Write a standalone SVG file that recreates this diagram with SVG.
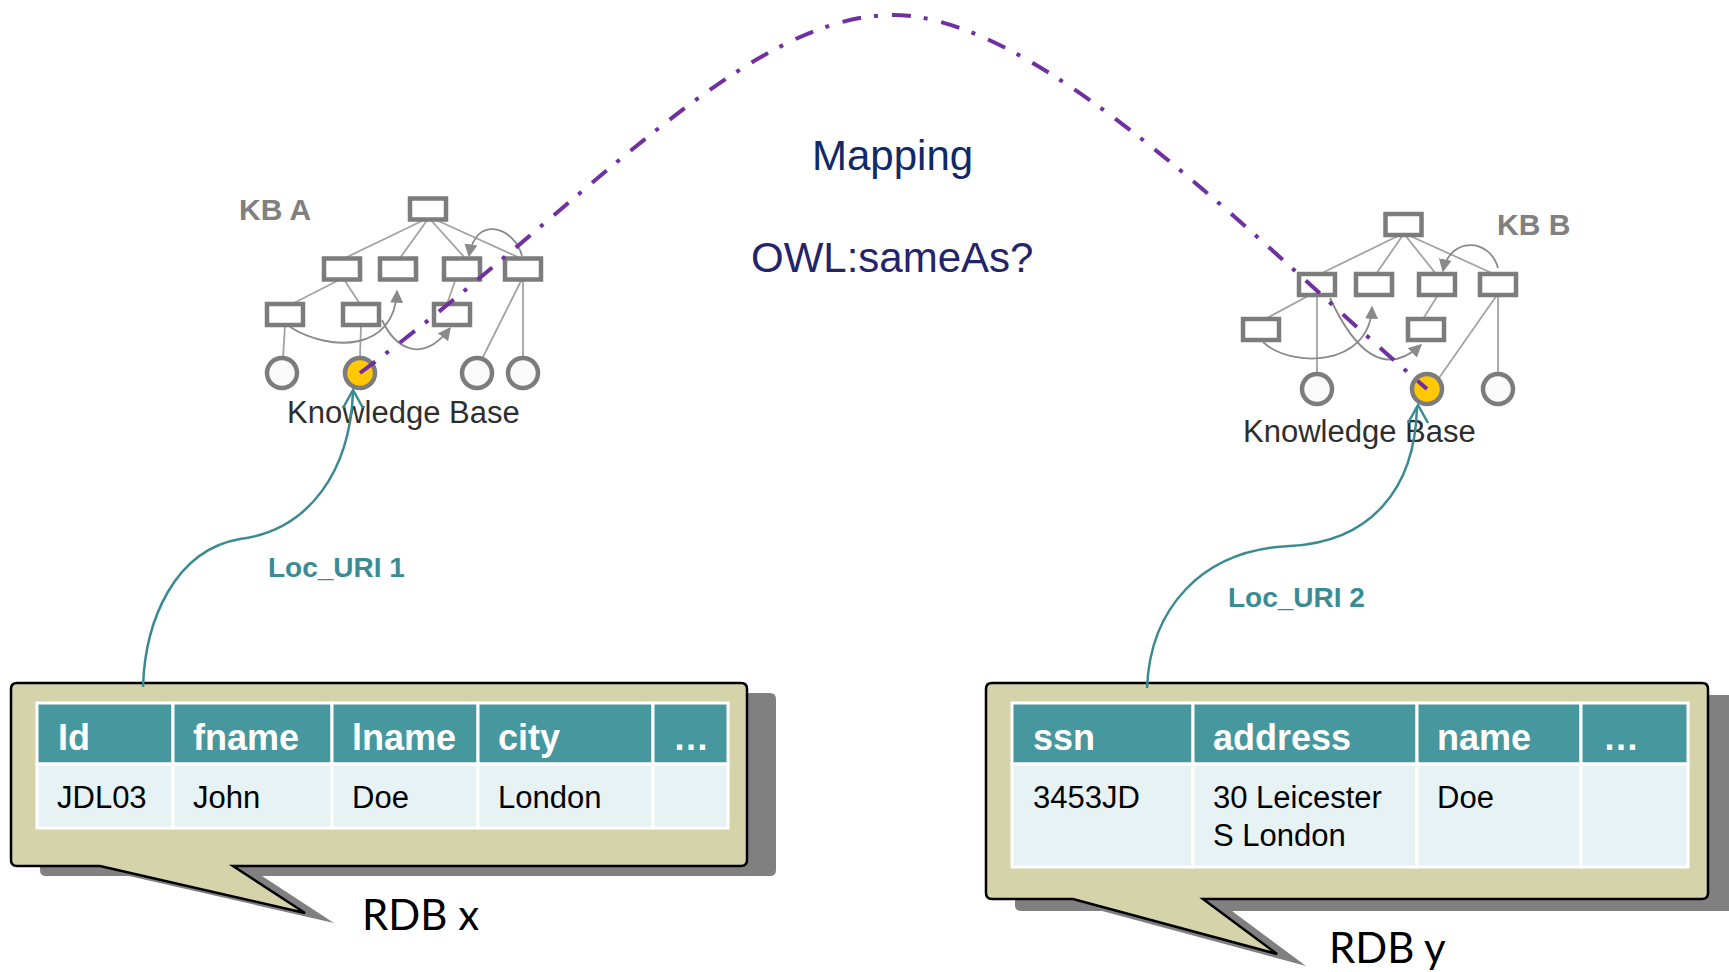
<svg xmlns="http://www.w3.org/2000/svg" width="1729" height="972" viewBox="0 0 1729 972">
  <style>
    .kbrect { fill: #ffffff; stroke: #7c7c7c; stroke-width: 4.5; }
    .kbcirc { fill: #fafafa; stroke: #7c7c7c; stroke-width: 4.5; }
    .kbhit { fill: #ffc800; stroke: #7c7c7c; stroke-width: 4.5; }
    .kbline { fill: none; stroke: #a3a3a3; stroke-width: 1.8; }
    .kbcurve { fill: none; stroke: #8a8a8a; stroke-width: 1.8; marker-end: url(#grayhead); }
    .kblabel { font-family: "Liberation Sans", Arial, sans-serif; font-size: 30px; font-weight: bold; fill: #808080; }
    .kbtitle { font-family: "Liberation Sans", Arial, sans-serif; font-size: 31px; fill: #2e2e2e; }
    .bubble { fill: #d5d3aa; stroke: #000000; stroke-width: 2.5; stroke-linejoin: miter; }
    .bubbleshadow { fill: #808080; }
    .hcell { fill: #46979e; stroke: #ffffff; stroke-width: 3; }
    .rcell { fill: #e6f2f3; stroke: #ffffff; stroke-width: 3; }
    .htext { font-family: "Liberation Sans", Arial, sans-serif; font-size: 36px; font-weight: bold; fill: #ffffff; }
    .rtext { font-family: "Liberation Sans", Arial, sans-serif; font-size: 31px; fill: #000000; }
    .dbname { font-family: Lato, "Open Sans", sans-serif; font-size: 42px; fill: #000000; }
    .uri { fill: none; stroke: #3a8a92; stroke-width: 2.5; }
    .urihead { fill: none; stroke: #3a8a92; stroke-width: 2.5; stroke-linejoin: miter; }
    .urilabel { font-family: "Liberation Sans", Arial, sans-serif; font-size: 28px; font-weight: bold; fill: #3a8c94; }
    .mapping { fill: none; stroke: #7030a0; stroke-width: 4; stroke-dasharray: 19 13 4 14; }
    .maplabel { font-family: "Liberation Sans", Arial, sans-serif; font-size: 42px; }
  </style>
  <defs>
    <marker id="grayhead" viewBox="0 0 10 10" refX="9" refY="5" markerUnits="userSpaceOnUse" markerWidth="13" markerHeight="13" orient="auto">
      <path d="M0,0 L10,5 L0,10 Z" fill="#8a8a8a"/>
    </marker>
  </defs>

  <!-- Knowledge base A -->
  <g id="kb-a">
    <text class="kblabel" x="239" y="220">KB A</text>
    <line class="kbline" x1="426" y1="219" x2="345" y2="258"/>
    <line class="kbline" x1="428" y1="219" x2="400" y2="258"/>
    <line class="kbline" x1="430" y1="219" x2="465" y2="258"/>
    <line class="kbline" x1="434" y1="219" x2="520" y2="258"/>
    <line class="kbline" x1="337" y1="281" x2="292" y2="304"/>
    <line class="kbline" x1="345" y1="281" x2="360" y2="304"/>
    <line class="kbline" x1="455" y1="281" x2="447" y2="304"/>
    <line class="kbline" x1="521" y1="281" x2="482" y2="359"/>
    <line class="kbline" x1="523" y1="281" x2="523" y2="358"/>
    <line class="kbline" x1="285" y1="325" x2="283" y2="358"/>
    <line class="kbline" x1="361" y1="325" x2="360" y2="358"/>
    <rect class="kbrect" x="410" y="198.5" width="36" height="21"/>
    <rect class="kbrect" x="324" y="258.5" width="36" height="21"/>
    <rect class="kbrect" x="380" y="258.5" width="36" height="21"/>
    <rect class="kbrect" x="444" y="258.5" width="36" height="21"/>
    <rect class="kbrect" x="505" y="258.5" width="36" height="21"/>
    <rect class="kbrect" x="267" y="304" width="36" height="21"/>
    <rect class="kbrect" x="343" y="304" width="36" height="21"/>
    <rect class="kbrect" x="434" y="304" width="36" height="21"/>
    <path class="kbcurve" d="M290,327 C330,352 395,352 397,291"/>
    <path class="kbcurve" d="M382,320 C395,348 422,365 450,328"/>
    <path class="kbcurve" d="M522,256 C515,228 476,213 469,256"/>
    <circle class="kbcirc" cx="282" cy="373" r="15"/>
    <circle class="kbhit" cx="360" cy="373" r="15"/>
    <circle class="kbcirc" cx="477" cy="373" r="15"/>
    <circle class="kbcirc" cx="523" cy="373" r="15"/>
    <text class="kbtitle" x="287" y="423">Knowledge Base</text>
  </g>

  <!-- Knowledge base B -->
  <g id="kb-b">
    <text class="kblabel" x="1497" y="235">KB B</text>
    <line class="kbline" x1="1400" y1="235" x2="1320" y2="274"/>
    <line class="kbline" x1="1403" y1="235" x2="1376" y2="274"/>
    <line class="kbline" x1="1405" y1="235" x2="1436" y2="274"/>
    <line class="kbline" x1="1408" y1="235" x2="1494" y2="274"/>
    <line class="kbline" x1="1310" y1="295" x2="1267" y2="318"/>
    <line class="kbline" x1="1317" y1="295" x2="1317" y2="374"/>
    <line class="kbline" x1="1438" y1="295" x2="1423" y2="319"/>
    <line class="kbline" x1="1497" y1="295" x2="1439" y2="378"/>
    <line class="kbline" x1="1498" y1="295" x2="1498" y2="374"/>
    <rect class="kbrect" x="1385.5" y="214" width="36" height="21"/>
    <rect class="kbrect" x="1299" y="274" width="36" height="21"/>
    <rect class="kbrect" x="1356" y="274" width="36" height="21"/>
    <rect class="kbrect" x="1419" y="274" width="36" height="21"/>
    <rect class="kbrect" x="1480" y="274" width="36" height="21"/>
    <rect class="kbrect" x="1243" y="319" width="36" height="21"/>
    <rect class="kbrect" x="1408" y="319" width="36" height="21"/>
    <path class="kbcurve" d="M1263,342 C1290,368 1370,368 1372,307"/>
    <path class="kbcurve" d="M1330,298 C1355,352 1385,378 1421,345"/>
    <path class="kbcurve" d="M1498,268 C1490,238 1450,236 1443,271"/>
    <circle class="kbcirc" cx="1317" cy="389" r="15"/>
    <circle class="kbhit" cx="1427" cy="389" r="15"/>
    <circle class="kbcirc" cx="1498" cy="389" r="15"/>
    <text class="kbtitle" x="1243" y="442">Knowledge Base</text>
  </g>

  <!-- Relational database x -->
  <g id="rdb-x">
    <path class="bubbleshadow" transform="translate(29,10)" d="M17,683 H741 Q747,683 747,689 V860 Q747,866 741,866 H233 L305,913 L100,866 H17 Q11,866 11,860 V689 Q11,683 17,683 Z"/>
    <path class="bubble" d="M17,683 H741 Q747,683 747,689 V860 Q747,866 741,866 H233 L305,913 L100,866 H17 Q11,866 11,860 V689 Q11,683 17,683 Z"/>
    <rect class="hcell" x="37" y="703" width="136" height="61"/>
    <rect class="hcell" x="173" y="703" width="159" height="61"/>
    <rect class="hcell" x="332" y="703" width="146" height="61"/>
    <rect class="hcell" x="478" y="703" width="175" height="61"/>
    <rect class="hcell" x="653" y="703" width="75" height="61"/>
    <rect class="rcell" x="37" y="764" width="136" height="64"/>
    <rect class="rcell" x="173" y="764" width="159" height="64"/>
    <rect class="rcell" x="332" y="764" width="146" height="64"/>
    <rect class="rcell" x="478" y="764" width="175" height="64"/>
    <rect class="rcell" x="653" y="764" width="75" height="64"/>
    <text class="htext" x="58" y="750">Id</text>
    <text class="htext" x="193" y="750">fname</text>
    <text class="htext" x="352" y="750">lname</text>
    <text class="htext" x="498" y="750">city</text>
    <text class="htext" x="673" y="750">…</text>
    <text class="rtext" x="57" y="808">JDL03</text>
    <text class="rtext" x="193" y="808">John</text>
    <text class="rtext" x="352" y="808">Doe</text>
    <text class="rtext" x="498" y="808">London</text>
    <text class="dbname" x="362" y="930">RDB x</text>
  </g>

  <!-- Relational database y -->
  <g id="rdb-y">
    <path class="bubbleshadow" transform="translate(29,12)" d="M992,683 H1702 Q1708,683 1708,689 V893 Q1708,899 1702,899 H1203 L1277,954 L1073,899 H992 Q986,899 986,893 V689 Q986,683 992,683 Z"/>
    <path class="bubble" d="M992,683 H1702 Q1708,683 1708,689 V893 Q1708,899 1702,899 H1203 L1277,954 L1073,899 H992 Q986,899 986,893 V689 Q986,683 992,683 Z"/>
    <rect class="hcell" x="1012" y="703" width="181" height="61"/>
    <rect class="hcell" x="1193" y="703" width="224" height="61"/>
    <rect class="hcell" x="1417" y="703" width="164" height="61"/>
    <rect class="hcell" x="1581" y="703" width="107" height="61"/>
    <rect class="rcell" x="1012" y="764" width="181" height="103"/>
    <rect class="rcell" x="1193" y="764" width="224" height="103"/>
    <rect class="rcell" x="1417" y="764" width="164" height="103"/>
    <rect class="rcell" x="1581" y="764" width="107" height="103"/>
    <text class="htext" x="1033" y="750">ssn</text>
    <text class="htext" x="1213" y="750">address</text>
    <text class="htext" x="1437" y="750">name</text>
    <text class="htext" x="1603" y="750">…</text>
    <text class="rtext" x="1033" y="808">3453JD</text>
    <text class="rtext" x="1213" y="808">30 Leicester</text>
    <text class="rtext" x="1213" y="846">S London</text>
    <text class="rtext" x="1437" y="808">Doe</text>
    <text class="dbname" x="1329" y="963">RDB y</text>
  </g>

  <!-- Labels in the middle -->
  <g id="mapping-label">
    <text class="maplabel" x="812" y="170" fill="#0f2a66">Mapping</text>
    <text class="maplabel" x="751" y="272" fill="#24246b">OWL:sameAs?</text>
  </g>

  <!-- Connectors -->
  <g id="connectors">
    <path class="uri" d="M143,687 C145,620 175,550 240,539 C310,530 350,470 353,392"/>
    <path class="urihead" d="M343,408 L353,390 L363,408"/>
    <text class="urilabel" x="268" y="577">Loc_URI 1</text>
    <path class="uri" d="M1147,688 C1150,610 1200,550 1290,546 C1370,542 1415,490 1417,407"/>
    <path class="urihead" d="M1408,423 L1418,405 L1428,423"/>
    <text class="urilabel" x="1228" y="607">Loc_URI 2</text>
    <path class="mapping" d="M360,373 C580,210 743,15 893,15 C1043,15 1267,252 1427,389"/>
  </g>
</svg>
